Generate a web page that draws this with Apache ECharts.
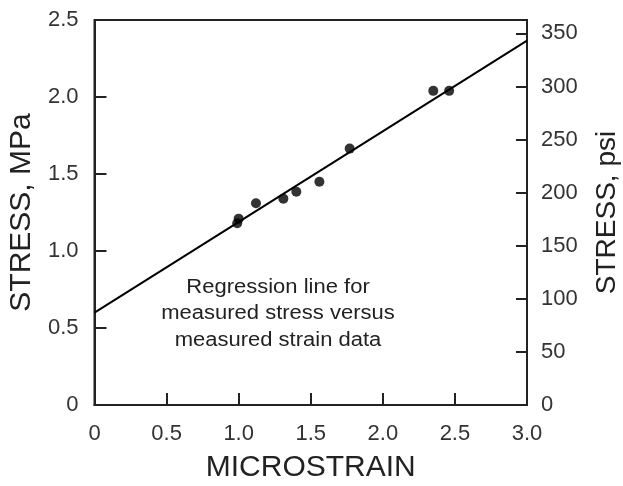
<!DOCTYPE html>
<html>
<head>
<meta charset="utf-8">
<script src="https://cdn.jsdelivr.net/npm/echarts@6/dist/echarts.min.js"></script>
<style>html,body{margin:0;padding:0;background:#fff}#c{width:623px;height:486px}</style>
</head>
<body>
<div id="c"></div>
<script>
// Measured data (strain in microstrain, stress in MPa)
var strain = [0.99, 1.00, 1.12, 1.31, 1.40, 1.56, 1.77, 2.35, 2.46];
var stress = [1.18, 1.21, 1.31, 1.34, 1.385, 1.45, 1.665, 2.04, 2.04];
// Regression line end points
var lineX = [0, 3.0];
var lineY = [0.60, 2.366];
var xTicks = ['0', '0.5', '1.0', '1.5', '2.0', '2.5', '3.0'];
var yTicksMPa = ['0', '0.5', '1.0', '1.5', '2.0', '2.5'];
var yTicksPsi = ['0', '50', '100', '150', '200', '250', '300', '350'];
var MPA_TO_PSI = 145.038;
var annotation = ['Regression line for', 'measured stress versus', 'measured strain data'];

var pts = strain.map(function (x, i) { return [x, stress[i]]; });
var reg = lineX.map(function (x, i) { return [x, lineY[i]]; });

var font = 'Liberation Sans, Arial, sans-serif';
var chart = echarts.init(document.getElementById('c'));
chart.setOption({
  animation: false,
  backgroundColor: '#fff',
  grid: { left: 94.5, right: 96, top: 20, bottom: 81, containLabel: false, outerBoundsMode: 'none',
    show: true, borderColor: '#222', borderWidth: 2, backgroundColor: 'transparent' },
  xAxis: {
    type: 'value', min: 0, max: 3, interval: 0.5,
    name: 'MICROSTRAIN', nameLocation: 'middle', nameGap: 48,
    nameTextStyle: { fontFamily: font, fontSize: 30, color: '#222' },
    axisLine: { show: true, lineStyle: { color: '#222', width: 2 } },
    axisTick: { show: true, inside: true, length: 12, lineStyle: { color: '#222', width: 2 } },
    axisLabel: { margin: 18, fontFamily: font, fontSize: 22, color: '#333',
      formatter: function (v) { var i = Math.round(v / 0.5); return xTicks[i] !== undefined ? xTicks[i] : ''; } },
    splitLine: { show: false }
  },
  yAxis: [{
    type: 'value', min: 0, max: 2.5, interval: 0.5, position: 'left',
    name: 'STRESS, MPa', nameLocation: 'middle', nameGap: 53, nameRotate: 90,
    nameTextStyle: { fontFamily: font, fontSize: 30, color: '#222' },
    axisLine: { show: true, lineStyle: { color: '#222', width: 2 } },
    axisTick: { show: true, inside: true, length: 12, lineStyle: { color: '#222', width: 2 } },
    axisLabel: { margin: 16, fontFamily: font, fontSize: 22, color: '#333',
      formatter: function (v) { var i = Math.round(v / 0.5); return yTicksMPa[i] !== undefined ? yTicksMPa[i] : ''; } },
    splitLine: { show: false }
  }, {
    type: 'value', min: 0, max: 2.5 * MPA_TO_PSI, interval: 50, position: 'right',
    name: 'STRESS, psi', nameLocation: 'middle', nameGap: 66, nameRotate: 90,
    nameTextStyle: { fontFamily: font, fontSize: 28, color: '#222' },
    axisLine: { show: true, lineStyle: { color: '#222', width: 2 } },
    axisTick: { show: true, inside: true, length: 11, lineStyle: { color: '#222', width: 2 } },
    axisLabel: { margin: 14, fontFamily: font, fontSize: 22, color: '#333',
      formatter: function (v) { if (Math.abs(v % 50) > 1e-6) return ''; var i = Math.round(v / 50); return yTicksPsi[i] !== undefined ? yTicksPsi[i] : ''; } },
    splitLine: { show: false }
  }],
  series: [{
    type: 'line', data: reg, showSymbol: false, symbol: 'none',
    lineStyle: { color: '#000', width: 2 }, silent: true, z: 2
  }, {
    type: 'scatter', data: pts, symbol: 'circle', symbolSize: 10,
    itemStyle: { color: '#000' }, z: 3
  }],
  graphic: [{
    type: 'text', x: 278, y: 274, scaleX: 1.1,
    style: { text: annotation.join('\n'), fontFamily: font, fontSize: 20, lineHeight: 26.5,
      fill: '#222', textAlign: 'center', textVerticalAlign: 'top' }
  }]
});
</script>
</body>
</html>
